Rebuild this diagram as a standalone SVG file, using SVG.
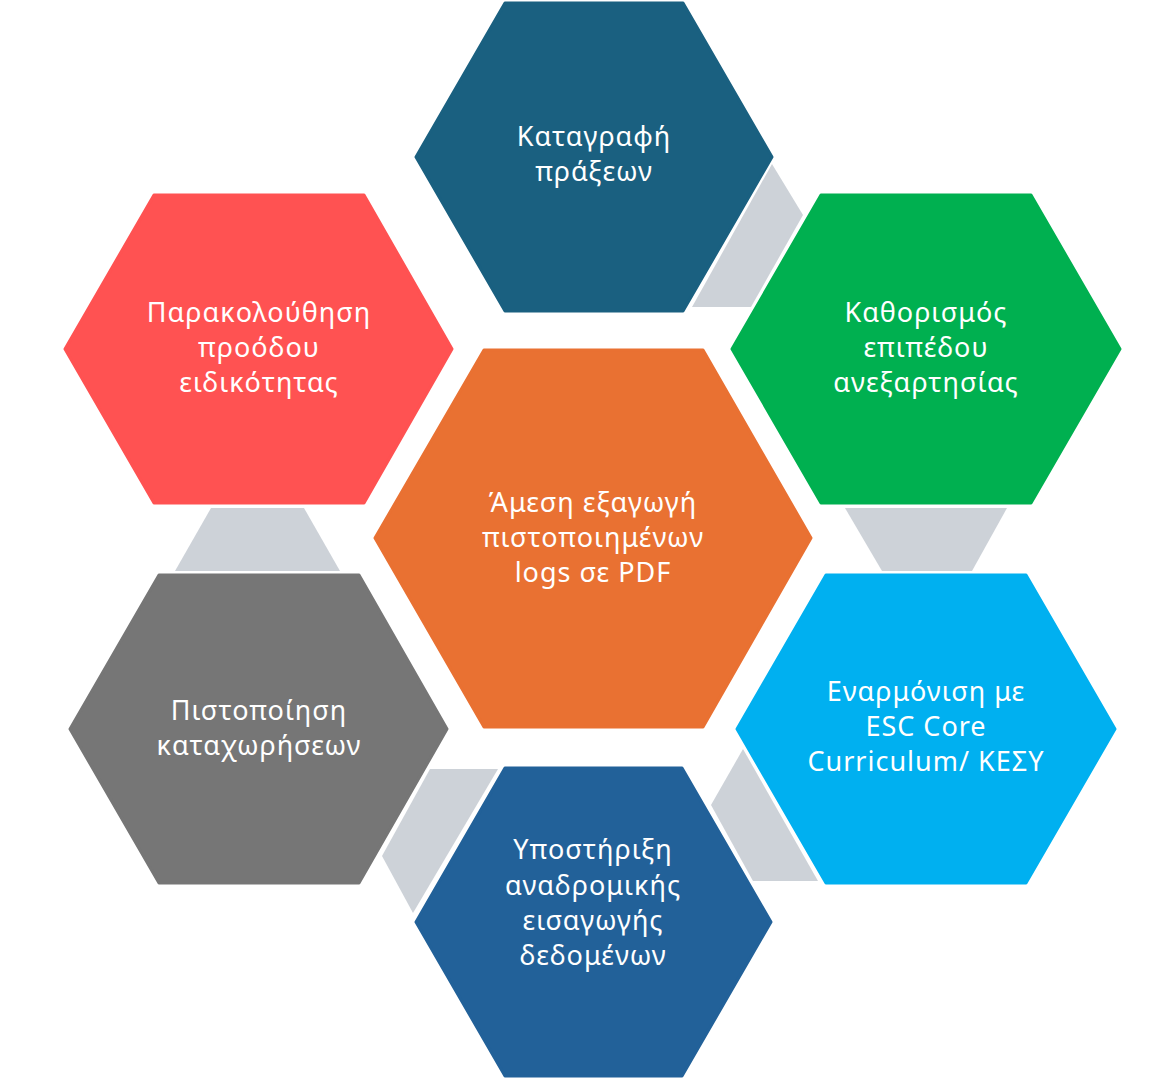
<svg xmlns="http://www.w3.org/2000/svg" width="1171" height="1079" viewBox="0 0 1171 1079">
<style>
.hex{stroke-width:3;stroke-linejoin:round}
.lbl{font-family:"Noto Sans","Liberation Sans",Arial,sans-serif;font-size:27px;letter-spacing:1px;fill:#ffffff;text-anchor:middle}
.con{fill:#CDD2D8}
</style>
<rect width="1171" height="1079" fill="#ffffff"/>
<g id="connectors">
<polygon class="con" points="772,164 803,215 751,307 692,307"/>
<polygon class="con" points="845,508 1007,508 972,571 882,571"/>
<polygon class="con" points="743,749 818,881 753,881 711,805"/>
<polygon class="con" points="430,769 498,769 413,913 382,856"/>
<polygon class="con" points="211,508 304,508 340,571 175,571"/>
</g>
<g id="node-top">
<polygon class="hex" fill="#1A6080" stroke="#1A6080" points="416,157 505,3 683,3 772,157 683,311 505,311"/>
<text class="lbl" x="594" y="146">Καταγραφή</text>
<text class="lbl" x="594" y="181">πράξεων</text>
</g>
<g id="node-red">
<polygon class="hex" fill="#FF5252" stroke="#FF5252" points="65,349 154,195 364,195 452,349 364,503 154,503"/>
<text class="lbl" x="259" y="322">Παρακολούθηση</text>
<text class="lbl" x="259" y="357">προόδου</text>
<text class="lbl" x="259" y="392">ειδικότητας</text>
</g>
<g id="node-green">
<polygon class="hex" fill="#00B050" stroke="#00B050" points="732,349 821,195 1031,195 1120,349 1031,503 821,503"/>
<text class="lbl" x="926" y="322">Καθορισμός</text>
<text class="lbl" x="926" y="357">επιπέδου</text>
<text class="lbl" x="926" y="392">ανεξαρτησίας</text>
</g>
<g id="node-center">
<polygon class="hex" fill="#E97132" stroke="#E97132" points="375,538 484,350 703,350 811,538 703,727 484,727"/>
<text class="lbl" x="593" y="512">Άμεση εξαγωγή</text>
<text class="lbl" x="593" y="547">πιστοποιημένων</text>
<text class="lbl" x="593" y="582">logs σε PDF</text>
</g>
<g id="node-grey">
<polygon class="hex" fill="#767676" stroke="#767676" points="70,729 159,575 359,575 447,729 359,883 159,883"/>
<text class="lbl" x="259" y="720">Πιστοποίηση</text>
<text class="lbl" x="259" y="755">καταχωρήσεων</text>
</g>
<g id="node-blue">
<polygon class="hex" fill="#00B0F0" stroke="#00B0F0" points="737,729 826,575 1026,575 1115,729 1026,883 826,883"/>
<text class="lbl" x="926" y="701">Εναρμόνιση με</text>
<text class="lbl" x="926" y="736">ESC Core</text>
<text class="lbl" x="926" y="771">Curriculum/ ΚΕΣΥ</text>
</g>
<g id="node-bottom">
<polygon class="hex" fill="#226199" stroke="#226199" points="416,922 505,768 682,768 771,922 682,1076 505,1076"/>
<text class="lbl" x="593" y="859">Υποστήριξη</text>
<text class="lbl" x="593" y="895">αναδρομικής</text>
<text class="lbl" x="593" y="930">εισαγωγής</text>
<text class="lbl" x="593" y="965">δεδομένων</text>
</g>
</svg>
